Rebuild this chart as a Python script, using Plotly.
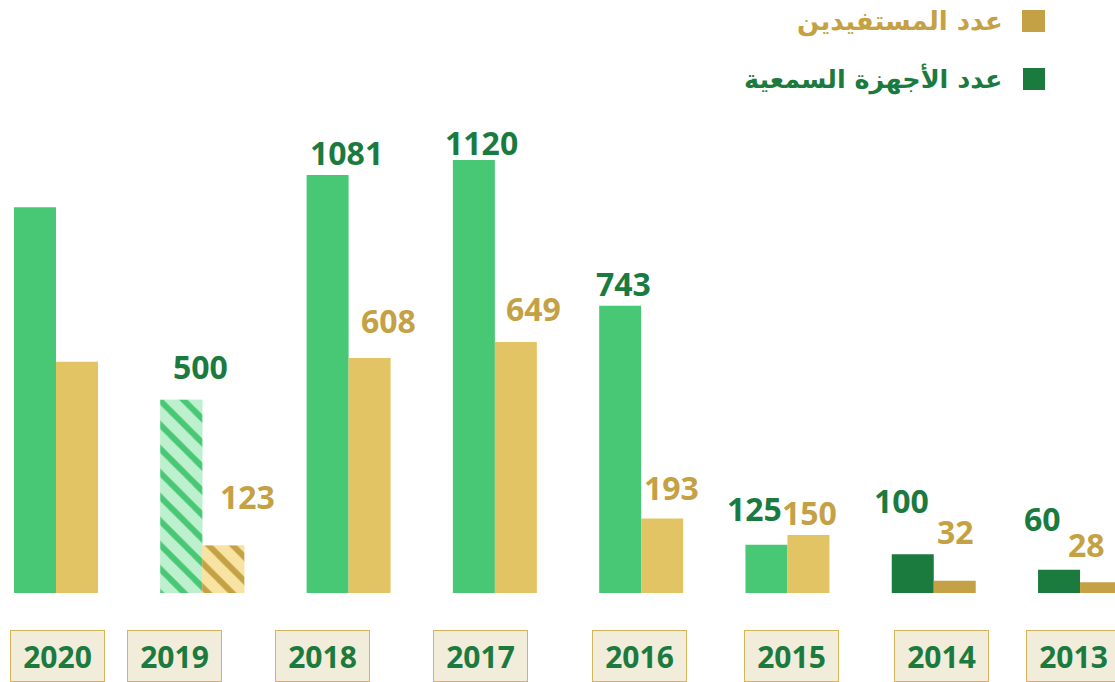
import plotly.graph_objects as go

# ---- data ----
years = ["2020", "2019", "2018", "2017", "2016", "2015", "2014", "2013"]
devices = [998, 500, 1081, 1120, 743, 125, 100, 60]
beneficiaries = [598, 123, 608, 649, 193, 150, 32, 28]
show_label = [False, True, True, True, True, True, True, True]
hatched = [False, True, False, False, False, False, False, False]
name_devices = "عدد الأجهزة السمعية"
name_benef = "عدد المستفيدين"

# ---- style ----
GREEN = "#48C774"
DGREEN = "#1B7A3E"
GOLD = "#E2C464"
DGOLD = "#C4A144"
LGREEN = "#BDF0CD"
LGOLD = "#F8E3A2"
BOX_BG = "#F2ECDB"
BOX_BORDER = "#D4B35B"

green_colors = [GREEN, LGREEN, GREEN, GREEN, GREEN, GREEN, DGREEN, DGREEN]
gold_colors = [GOLD, LGOLD, GOLD, GOLD, GOLD, GOLD, DGOLD, DGOLD]

# label offsets (pixels) relative to bar centre / top
g_dx = [0, 19.7, 19.4, 7.6, 3.3, -11.9, -11.2, -16.5]
g_dy = [0, 32.7, 22.6, 17.5, 22.2, 36.2, 53.8, 51.3]
b_dx = [0, 24.2, 19.4, 17.6, 9.3, 1.1, 0.3, -14.5]
b_dy = [0, 48.9, 37.9, 33.1, 30.4, 22.5, 49.1, 37.2]
box_dx = [1.5, -27.8, -26.1, -14.4, -1.7, 3.6, 7.8, -6.5]

W, H = 1115, 682
PLOT_BOTTOM = 593
VAL_FONT = "Open Sans"

fig = go.Figure()
fig.add_trace(go.Bar(
    x=years, y=devices, name=name_devices, offsetgroup="dev",
    marker=dict(color=green_colors, line=dict(width=0)),
))
fig.add_trace(go.Bar(
    x=years, y=beneficiaries, name=name_benef, offsetgroup="ben",
    marker=dict(color=gold_colors, line=dict(width=0)),
))
# hatched overlays (same offset groups -> drawn on top of the solid bars)
fig.add_trace(go.Bar(
    x=years, y=[v if h else None for v, h in zip(devices, hatched)],
    name=name_devices, offsetgroup="dev", showlegend=False,
    marker=dict(color=GREEN, line=dict(width=0),
                pattern=dict(shape="\\", fgcolor=GREEN, bgcolor=LGREEN, fgopacity=1,
                             size=17, solidity=0.35, fillmode="replace")),
))
fig.add_trace(go.Bar(
    x=years, y=[v if h else None for v, h in zip(beneficiaries, hatched)],
    name=name_benef, offsetgroup="ben", showlegend=False,
    marker=dict(color=DGOLD, line=dict(width=0),
                pattern=dict(shape="\\", fgcolor=DGOLD, bgcolor=LGOLD, fgopacity=1,
                             size=17, solidity=0.35, fillmode="replace")),
))

ann = []
for i, yr in enumerate(years):
    if show_label[i]:
        ann.append(dict(x=i, y=devices[i], xref="x", yref="y", text=str(devices[i]),
                        showarrow=False, xanchor="center", yanchor="middle",
                        xshift=-21 + g_dx[i], yshift=g_dy[i],
                        font=dict(family=VAL_FONT, size=32, color=DGREEN, weight="bold")))
        ann.append(dict(x=i, y=beneficiaries[i], xref="x", yref="y", text=str(beneficiaries[i]),
                        showarrow=False, xanchor="center", yanchor="middle",
                        xshift=21 + b_dx[i], yshift=b_dy[i],
                        font=dict(family=VAL_FONT, size=32, color=DGOLD, weight="bold")))
    ann.append(dict(x=i, y=0, xref="x", yref="paper", text=yr, showarrow=False,
                    xanchor="center", yanchor="middle", xshift=box_dx[i], yshift=-63,
                    width=93, height=50, bgcolor=BOX_BG, bordercolor=BOX_BORDER,
                    borderwidth=1, borderpad=0,
                    font=dict(family=VAL_FONT, size=30, color=DGREEN, weight="bold")))

def py(px):
    return 1 - px / PLOT_BOTTOM

# legend (drawn manually, symbol on the right for RTL)
ann.append(dict(x=1005 / W, y=py(21), xref="paper", yref="paper", text=name_benef,
                showarrow=False, xanchor="right", yanchor="middle",
                font=dict(family="DejaVu Sans", size=26, color=DGOLD, weight="bold")))
ann.append(dict(x=1004 / W, y=py(79), xref="paper", yref="paper", text=name_devices,
                showarrow=False, xanchor="right", yanchor="middle",
                font=dict(family="DejaVu Sans", size=25.5, color=DGREEN, weight="bold")))
shapes = [
    dict(type="rect", xref="paper", yref="paper", x0=1022 / W, x1=1045 / W,
         y0=py(32), y1=py(10), fillcolor=DGOLD, line=dict(width=0)),
    dict(type="rect", xref="paper", yref="paper", x0=1023 / W, x1=1045 / W,
         y0=py(90), y1=py(68), fillcolor=DGREEN, line=dict(width=0)),
]

fig.update_layout(
    width=W, height=H,
    margin=dict(l=0, r=0, t=0, b=H - PLOT_BOTTOM, pad=0),
    paper_bgcolor="white", plot_bgcolor="white",
    barmode="group", bargap=0.426, bargroupgap=0,
    showlegend=False,
    xaxis=dict(type="category", range=[-0.3828, 7.239], showticklabels=False,
               showgrid=False, zeroline=False, showline=False, fixedrange=True),
    yaxis=dict(range=[0, 1533.8], showticklabels=False, showgrid=False,
               zeroline=False, showline=False, fixedrange=True),
    annotations=ann, shapes=shapes,
)

fig.write_html("out.html", config={"displayModeBar": False},
               post_script="document.body.style.margin='0';document.body.style.overflow='hidden';")
